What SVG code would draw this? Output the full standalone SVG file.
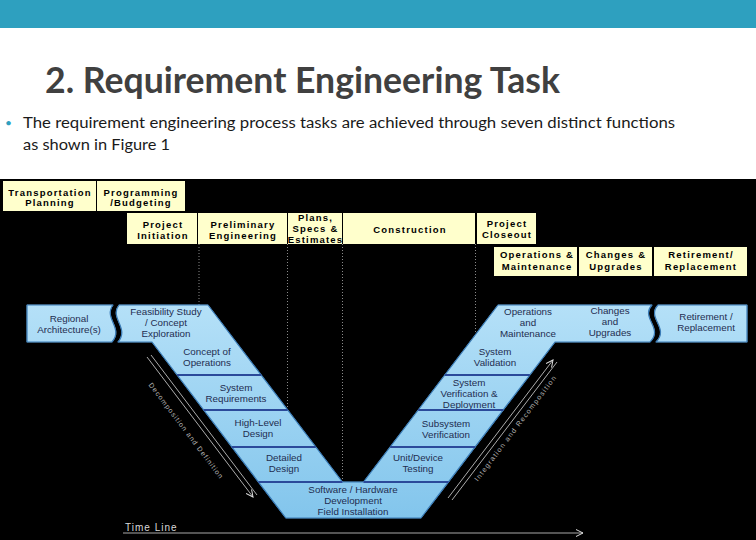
<svg xmlns="http://www.w3.org/2000/svg" width="756" height="540" viewBox="0 0 756 540">
<defs>
<linearGradient id="vg" gradientUnits="userSpaceOnUse" x1="0" y1="300" x2="0" y2="520">
<stop offset="0" stop-color="#B6E1F8"/><stop offset="1" stop-color="#82C5EC"/>
</linearGradient>
<marker id="ah" markerWidth="8" markerHeight="8" refX="7" refY="4" orient="auto" markerUnits="userSpaceOnUse"><path d="M0,0.5 L7,4 L0,7.5" fill="none" stroke="#dddddd" stroke-width="1"/></marker>
<style>
.tb{fill:#FFFFCC}
.tt{font-family:"Liberation Sans",Arial,sans-serif;font-weight:bold;font-size:9.5px;letter-spacing:1.2px;fill:#000;text-anchor:middle}
.seg{fill:url(#vg);stroke:url(#vg);stroke-width:0.6}
.ol{fill:none;stroke:#3A7CB8;stroke-width:1.2;stroke-linejoin:round}
.vt{font-family:"Liberation Sans",Arial,sans-serif;font-size:9.8px;fill:#1F2D50;text-anchor:middle}
.dv{stroke:#2B4A9A;stroke-width:2}
.dot{stroke:#8a8a8a;stroke-width:1;stroke-dasharray:1 2}
.ar{stroke:#d8d8d8;stroke-width:0.8;fill:none}
.dt{font-family:"Liberation Sans",Arial,sans-serif;font-size:7px;fill:#d0d0d0;opacity:0.85}
</style>
</defs>
<rect x="0" y="0" width="756" height="540" fill="#ffffff"/>
<rect x="0" y="0" width="756" height="28" fill="#2EA0BF"/>
<text x="45" y="93" font-family="Lato,'Open Sans',sans-serif" font-weight="bold" font-size="36" fill="#404040" textLength="515" lengthAdjust="spacingAndGlyphs">2. Requirement Engineering Task</text>
<text x="5" y="127" font-family="Lato,sans-serif" font-size="12" fill="#2EA0BF">•</text>
<text x="23" y="128" font-family="Lato,'Open Sans',sans-serif" font-size="15.5" fill="#1a1a1a" textLength="652" lengthAdjust="spacingAndGlyphs">The requirement engineering process tasks are achieved through seven distinct functions</text>
<text x="23" y="150" font-family="Lato,'Open Sans',sans-serif" font-size="15.5" fill="#1a1a1a" textLength="147" lengthAdjust="spacingAndGlyphs">as shown in Figure 1</text>
<rect x="0" y="179" width="756" height="361" fill="#000000"/>

<g id="connectors">
<line class="dot" x1="199" y1="244" x2="199" y2="305"/>
<line class="dot" x1="287.5" y1="244" x2="287.5" y2="409"/>
<line class="dot" x1="342.5" y1="244" x2="342.5" y2="482"/>
<line class="dot" x1="475.5" y1="244" x2="475.5" y2="335"/>
<line class="ar" x1="147" y1="357" x2="253" y2="497" marker-end="url(#ah)"/>
<line class="ar" x1="151" y1="355" x2="257" y2="495"/>
<text class="dt" transform="translate(184,432) rotate(52.8)" text-anchor="middle" textLength="118">Decomposition and Definition</text>
<line class="ar" x1="448" y1="498" x2="553" y2="360" marker-end="url(#ah)"/>
<line class="ar" x1="452" y1="500" x2="557" y2="362"/>
<text class="dt" transform="translate(517,430) rotate(-52.8)" text-anchor="middle" textLength="130">Integration and Recomposition</text>
<line x1="123" y1="533" x2="583" y2="533" stroke="#a8a8a8" stroke-width="1" marker-end="url(#ah)"/>
<text x="125" y="531" font-family="'Liberation Sans',Arial,sans-serif" font-size="10" letter-spacing="1" fill="#d8d8d8">Time Line</text>
</g>

<g id="top-transportation-planning"><rect class="tb" x="3" y="181" width="93" height="30"/><text class="tt" x="50" y="195.5">Transportation</text><text class="tt" x="50" y="206">Planning</text></g>
<g id="top-programming-budgeting"><rect class="tb" x="97" y="181" width="88" height="30"/><text class="tt" x="141" y="195.5">Programming</text><text class="tt" x="141" y="206">/Budgeting</text></g>
<g id="top-project-initiation"><rect class="tb" x="127" y="213" width="70" height="31"/><text class="tt" x="163" y="227.5">Project</text><text class="tt" x="163" y="238.5">Initiation</text></g>
<g id="top-preliminary-engineering"><rect class="tb" x="198" y="213" width="89" height="31"/><text class="tt" x="243" y="227.5">Preliminary</text><text class="tt" x="243" y="238.5">Engineering</text></g>
<g id="top-pse"><rect class="tb" x="288" y="213" width="54" height="31"/><text class="tt" x="315.5" y="220.5">Plans,</text><text class="tt" x="315.5" y="231.5">Specs &amp;</text><text class="tt" x="315.5" y="242.5">Estimates</text></g>
<g id="top-construction"><rect class="tb" x="343" y="213" width="132" height="31"/><text class="tt" x="410" y="233">Construction</text></g>
<g id="top-project-closeout"><rect class="tb" x="477" y="213" width="59" height="31"/><text class="tt" x="507" y="226.5">Project</text><text class="tt" x="507" y="237.5">Closeout</text></g>
<g id="top-operations-maintenance"><rect class="tb" x="494" y="247" width="83" height="29"/><text class="tt" x="537" y="258">Operations &amp;</text><text class="tt" x="537" y="269.5">Maintenance</text></g>
<g id="top-changes-upgrades"><rect class="tb" x="579" y="247" width="73" height="29"/><text class="tt" x="616" y="258">Changes &amp;</text><text class="tt" x="616" y="269.5">Upgrades</text></g>
<g id="top-retirement-replacement"><rect class="tb" x="654" y="247" width="93" height="29"/><text class="tt" x="701" y="258">Retirement/</text><text class="tt" x="701" y="269.5">Replacement</text></g>

<g id="v-regional-architecture"><path class="seg" d="M27,305 H113 C103,318 124,328 112,342 H27 Z"/><path class="ol" d="M27,305 H113 C103,318 124,328 112,342 H27 Z"/><text class="vt" x="69" y="321.5">Regional</text><text class="vt" x="69" y="333">Architecture(s)</text></g>
<g id="v-feasibility"><path class="seg" d="M119,305 H208 L236,342 H118 C130,328 109,318 119,305 Z"/><text class="vt" x="166" y="315">Feasibility Study</text><text class="vt" x="166" y="326">/ Concept</text><text class="vt" x="166" y="337">Exploration</text></g>
<g id="v-concept-operations"><polygon class="seg" points="152,342 236,342 261.1,375 177.1,375"/><text class="vt" x="207" y="355">Concept of</text><text class="vt" x="207" y="366">Operations</text></g>
<g id="v-system-requirements"><polygon class="seg" points="177.1,375 261.1,375 287.7,410 203.7,410"/><text class="vt" x="236" y="390.5">System</text><text class="vt" x="236" y="402">Requirements</text></g>
<g id="v-high-level-design"><polygon class="seg" points="203.7,410 287.7,410 315.8,447 231.8,447"/><text class="vt" x="258" y="426">High-Level</text><text class="vt" x="258" y="437">Design</text></g>
<g id="v-detailed-design"><polygon class="seg" points="231.8,447 315.8,447 342.4,482 258.4,482"/><text class="vt" x="284" y="461">Detailed</text><text class="vt" x="284" y="472">Design</text></g>
<g id="v-software-hardware"><polygon class="seg" points="258.4,482 448.6,482 421,518 285.8,518"/><text class="vt" x="353" y="492.5">Software / Hardware</text><text class="vt" x="353" y="503.5">Development</text><text class="vt" x="353" y="514.5">Field Installation</text></g>
<g id="v-unit-device-testing"><polygon class="seg" points="363.5,482 448.6,482 475.2,447 390.1,447"/><text class="vt" x="418" y="461">Unit/Device</text><text class="vt" x="418" y="472">Testing</text></g>
<g id="v-subsystem-verification"><polygon class="seg" points="390.1,447 475.2,447 503.3,410 418.2,410"/><text class="vt" x="446" y="427">Subsystem</text><text class="vt" x="446" y="438">Verification</text></g>
<g id="v-system-verification"><polygon class="seg" points="418.2,410 503.3,410 529.9,375 444.8,375"/><text class="vt" x="469" y="385.5">System</text><text class="vt" x="469" y="396.5">Verification &amp;</text><text class="vt" x="469" y="407.5">Deployment</text></g>
<g id="v-system-validation"><polygon class="seg" points="444.8,375 529.9,375 555,342 469.9,342"/><text class="vt" x="495" y="355">System</text><text class="vt" x="495" y="366">Validation</text></g>
<g id="v-operations-maintenance"><polygon class="seg" points="498,305 572,305 572,342 469.9,342"/><text class="vt" x="528" y="315">Operations</text><text class="vt" x="528" y="326">and</text><text class="vt" x="528" y="337">Maintenance</text></g>
<g id="v-changes-upgrades"><path class="seg" d="M572,305 H652 C640,318 664,328 650,342 H572 Z"/><text class="vt" x="610" y="314">Changes</text><text class="vt" x="610" y="325">and</text><text class="vt" x="610" y="336">Upgrades</text></g>
<g id="v-retirement-replacement"><path class="seg" d="M658,305 H747 V342 H656 C670,328 646,318 658,305 Z"/><path class="ol" d="M658,305 H747 V342 H656 C670,328 646,318 658,305 Z"/><text class="vt" x="706" y="320">Retirement /</text><text class="vt" x="706" y="331">Replacement</text></g>

<g id="v-outline">
<path class="ol" d="M119,305 H208 L342.4,482 H363.5 L498,305 H652 C640,318 664,328 650,342 H555 L421,518 H285.8 L152,342 H118 C130,328 109,318 119,305 Z"/>
<line class="dv" x1="177.1" y1="375" x2="261.1" y2="375"/>
<line class="dv" x1="203.7" y1="410" x2="287.7" y2="410"/>
<line class="dv" x1="231.8" y1="447" x2="315.8" y2="447"/>
<line class="dv" x1="258.4" y1="482" x2="342.4" y2="482"/>
<line class="dv" x1="444.8" y1="375" x2="529.9" y2="375"/>
<line class="dv" x1="418.2" y1="410" x2="503.3" y2="410"/>
<line class="dv" x1="390.1" y1="447" x2="475.2" y2="447"/>
<line class="dv" x1="363.5" y1="482" x2="448.6" y2="482"/>
</g>
</svg>
